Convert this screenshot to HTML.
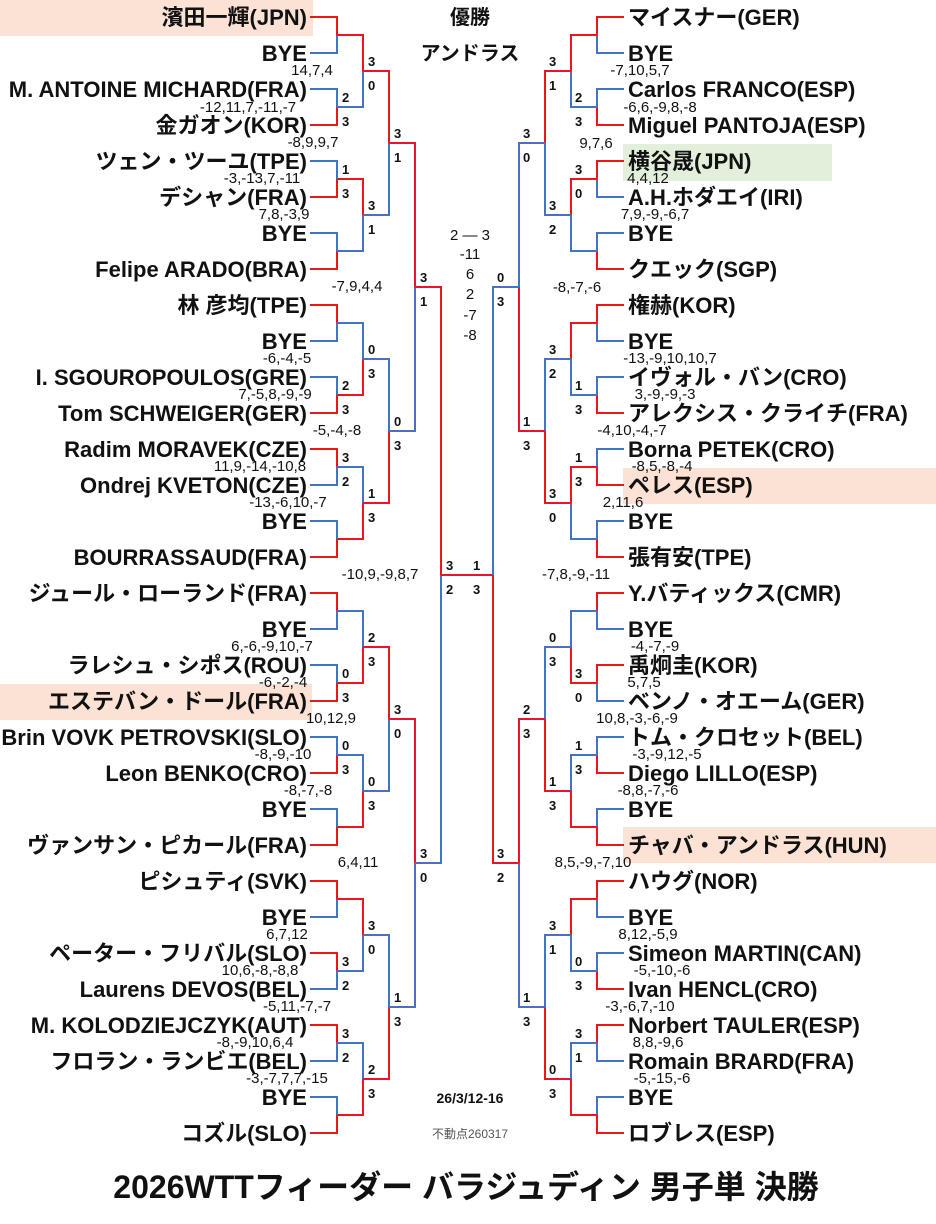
<!DOCTYPE html>
<html><head><meta charset="utf-8"><style>
html,body{margin:0;padding:0;background:#fff}
svg{display:block}
.n{font:bold 22px "Liberation Sans","Noto Sans CJK JP",sans-serif;fill:#111}
.s{font:15px "Liberation Sans","Noto Sans CJK JP",sans-serif;fill:#111}
.c{font:bold 13px "Liberation Sans",sans-serif;fill:#111}
.r{stroke:#e8161e;stroke-width:2;fill:none}
.b{stroke:#4472c4;stroke-width:2;fill:none}
</style></head><body>
<svg width="936" height="1224" viewBox="0 0 936 1224" xmlns="http://www.w3.org/2000/svg">
<rect x="0" y="0" width="313" height="36" fill="#fbe2d5"/>
<rect x="0" y="684" width="312" height="36" fill="#fbe2d5"/>
<rect x="623" y="144" width="209" height="37" fill="#e2efda"/>
<rect x="623" y="468" width="313" height="36" fill="#fbe2d5"/>
<rect x="623" y="827" width="313" height="36" fill="#fbe2d5"/>

<g>
<path class="r" d="M310 17H337V35"/><path class="b" d="M310 53H337V35"/>
<path class="b" d="M310 89H337V107"/><path class="r" d="M310 125H337V107"/>
<path class="b" d="M310 161H337V179"/><path class="r" d="M310 197H337V179"/>
<path class="b" d="M310 233H337V251"/><path class="r" d="M310 269H337V251"/>
<path class="r" d="M310 305H337V323"/><path class="b" d="M310 341H337V323"/>
<path class="b" d="M310 377H337V395"/><path class="r" d="M310 413H337V395"/>
<path class="r" d="M310 449H337V467"/><path class="b" d="M310 485H337V467"/>
<path class="b" d="M310 521H337V539"/><path class="r" d="M310 557H337V539"/>
<path class="r" d="M310 593H337V611"/><path class="b" d="M310 629H337V611"/>
<path class="b" d="M310 665H337V683"/><path class="r" d="M310 701H337V683"/>
<path class="b" d="M310 737H337V755"/><path class="r" d="M310 773H337V755"/>
<path class="b" d="M310 809H337V827"/><path class="r" d="M310 845H337V827"/>
<path class="r" d="M310 881H337V899"/><path class="b" d="M310 917H337V899"/>
<path class="r" d="M310 953H337V971"/><path class="b" d="M310 989H337V971"/>
<path class="r" d="M310 1025H337V1043"/><path class="b" d="M310 1061H337V1043"/>
<path class="b" d="M310 1097H337V1115"/><path class="r" d="M310 1133H337V1115"/>
</g>
<g>
<path class="r" d="M337 35H363V71"/><path class="b" d="M337 107H363V71"/>
<path class="r" d="M337 179H363V215"/><path class="b" d="M337 251H363V215"/>
<path class="b" d="M337 323H363V359"/><path class="r" d="M337 395H363V359"/>
<path class="b" d="M337 467H363V503"/><path class="r" d="M337 539H363V503"/>
<path class="b" d="M337 611H363V647"/><path class="r" d="M337 683H363V647"/>
<path class="b" d="M337 755H363V791"/><path class="r" d="M337 827H363V791"/>
<path class="r" d="M337 899H363V935"/><path class="b" d="M337 971H363V935"/>
<path class="b" d="M337 1043H363V1079"/><path class="r" d="M337 1115H363V1079"/>
</g>
<g>
<path class="r" d="M363 71H389V143"/><path class="b" d="M363 215H389V143"/>
<path class="b" d="M363 359H389V431"/><path class="r" d="M363 503H389V431"/>
<path class="r" d="M363 647H389V719"/><path class="b" d="M363 791H389V719"/>
<path class="b" d="M363 935H389V1007"/><path class="r" d="M363 1079H389V1007"/>
<path class="r" d="M389 143H415V287"/><path class="b" d="M389 431H415V287"/>
<path class="r" d="M389 719H415V863"/><path class="b" d="M389 1007H415V863"/>
<path class="r" d="M415 287H441V575"/><path class="b" d="M415 863H441V575"/>
<path class="r" d="M441 575H493"/>
</g>
<g>
<path class="r" d="M624 17H597V35"/><path class="b" d="M624 53H597V35"/>
<path class="b" d="M624 89H597V107"/><path class="r" d="M624 125H597V107"/>
<path class="r" d="M624 161H597V179"/><path class="b" d="M624 197H597V179"/>
<path class="b" d="M624 233H597V251"/><path class="r" d="M624 269H597V251"/>
<path class="r" d="M624 305H597V323"/><path class="b" d="M624 341H597V323"/>
<path class="b" d="M624 377H597V395"/><path class="r" d="M624 413H597V395"/>
<path class="b" d="M624 449H597V467"/><path class="r" d="M624 485H597V467"/>
<path class="b" d="M624 521H597V539"/><path class="r" d="M624 557H597V539"/>
<path class="r" d="M624 593H597V611"/><path class="b" d="M624 629H597V611"/>
<path class="r" d="M624 665H597V683"/><path class="b" d="M624 701H597V683"/>
<path class="b" d="M624 737H597V755"/><path class="r" d="M624 773H597V755"/>
<path class="b" d="M624 809H597V827"/><path class="r" d="M624 845H597V827"/>
<path class="r" d="M624 881H597V899"/><path class="b" d="M624 917H597V899"/>
<path class="b" d="M624 953H597V971"/><path class="r" d="M624 989H597V971"/>
<path class="r" d="M624 1025H597V1043"/><path class="b" d="M624 1061H597V1043"/>
<path class="b" d="M624 1097H597V1115"/><path class="r" d="M624 1133H597V1115"/>
</g>
<g>
<path class="r" d="M597 35H571V71"/><path class="b" d="M597 107H571V71"/>
<path class="r" d="M597 179H571V215"/><path class="b" d="M597 251H571V215"/>
<path class="r" d="M597 323H571V359"/><path class="b" d="M597 395H571V359"/>
<path class="r" d="M597 467H571V503"/><path class="b" d="M597 539H571V503"/>
<path class="b" d="M597 611H571V647"/><path class="r" d="M597 683H571V647"/>
<path class="b" d="M597 755H571V791"/><path class="r" d="M597 827H571V791"/>
<path class="r" d="M597 899H571V935"/><path class="b" d="M597 971H571V935"/>
<path class="b" d="M597 1043H571V1079"/><path class="r" d="M597 1115H571V1079"/>
</g>
<g>
<path class="r" d="M571 71H545V143"/><path class="b" d="M571 215H545V143"/>
<path class="b" d="M571 359H545V431"/><path class="r" d="M571 503H545V431"/>
<path class="b" d="M571 647H545V719"/><path class="r" d="M571 791H545V719"/>
<path class="b" d="M571 935H545V1007"/><path class="r" d="M571 1079H545V1007"/>
<path class="b" d="M545 143H519V287"/><path class="r" d="M545 431H519V287"/>
<path class="r" d="M545 719H519V863"/><path class="b" d="M545 1007H519V863"/>
<path class="b" d="M519 287H493V575"/><path class="r" d="M519 863H493V575"/>
</g>

<g class="n" text-anchor="end">
<text x="307" y="25">濱田一輝(JPN)</text>
<text x="307" y="61">BYE</text>
<text x="307" y="97">M. ANTOINE MICHARD(FRA)</text>
<text x="307" y="133">金ガオン(KOR)</text>
<text x="307" y="169">ツェン・ツーユ(TPE)</text>
<text x="307" y="205">デシャン(FRA)</text>
<text x="307" y="241">BYE</text>
<text x="307" y="277">Felipe ARADO(BRA)</text>
<text x="307" y="313">林 彦均(TPE)</text>
<text x="307" y="349">BYE</text>
<text x="307" y="385">I. SGOUROPOULOS(GRE)</text>
<text x="307" y="421">Tom SCHWEIGER(GER)</text>
<text x="307" y="457">Radim MORAVEK(CZE)</text>
<text x="307" y="493">Ondrej KVETON(CZE)</text>
<text x="307" y="529">BYE</text>
<text x="307" y="565">BOURRASSAUD(FRA)</text>
<text x="307" y="601">ジュール・ローランド(FRA)</text>
<text x="307" y="637">BYE</text>
<text x="307" y="673">ラレシュ・シポス(ROU)</text>
<text x="307" y="709">エステバン・ドール(FRA)</text>
<text x="307" y="745">Brin VOVK PETROVSKI(SLO)</text>
<text x="307" y="781">Leon BENKO(CRO)</text>
<text x="307" y="817">BYE</text>
<text x="307" y="853">ヴァンサン・ピカール(FRA)</text>
<text x="307" y="889">ピシュティ(SVK)</text>
<text x="307" y="925">BYE</text>
<text x="307" y="961">ペーター・フリバル(SLO)</text>
<text x="307" y="997">Laurens DEVOS(BEL)</text>
<text x="307" y="1033">M. KOLODZIEJCZYK(AUT)</text>
<text x="307" y="1069">フロラン・ランビエ(BEL)</text>
<text x="307" y="1105">BYE</text>
<text x="307" y="1141">コズル(SLO)</text>
</g>
<g class="n">
<text x="628" y="25">マイスナー(GER)</text>
<text x="628" y="61">BYE</text>
<text x="628" y="97">Carlos FRANCO(ESP)</text>
<text x="628" y="133">Miguel PANTOJA(ESP)</text>
<text x="628" y="169">横谷晟(JPN)</text>
<text x="628" y="205">A.H.ホダエイ(IRI)</text>
<text x="628" y="241">BYE</text>
<text x="628" y="277">クエック(SGP)</text>
<text x="628" y="313">権赫(KOR)</text>
<text x="628" y="349">BYE</text>
<text x="628" y="385">イヴォル・バン(CRO)</text>
<text x="628" y="421">アレクシス・クライチ(FRA)</text>
<text x="628" y="457">Borna PETEK(CRO)</text>
<text x="628" y="493">ペレス(ESP)</text>
<text x="628" y="529">BYE</text>
<text x="628" y="565">張有安(TPE)</text>
<text x="628" y="601">Y.バティックス(CMR)</text>
<text x="628" y="637">BYE</text>
<text x="628" y="673">禹炯圭(KOR)</text>
<text x="628" y="709">ベンノ・オエーム(GER)</text>
<text x="628" y="745">トム・クロセット(BEL)</text>
<text x="628" y="781">Diego LILLO(ESP)</text>
<text x="628" y="817">BYE</text>
<text x="628" y="853">チャバ・アンドラス(HUN)</text>
<text x="628" y="889">ハウグ(NOR)</text>
<text x="628" y="925">BYE</text>
<text x="628" y="961">Simeon MARTIN(CAN)</text>
<text x="628" y="997">Ivan HENCL(CRO)</text>
<text x="628" y="1033">Norbert TAULER(ESP)</text>
<text x="628" y="1069">Romain BRARD(FRA)</text>
<text x="628" y="1105">BYE</text>
<text x="628" y="1141">ロブレス(ESP)</text>
</g>

<g class="s" text-anchor="middle">
<text x="312" y="75">14,7,4</text>
<text x="248" y="112">-12,11,7,-11,-7</text>
<text x="313" y="147">-8,9,9,7</text>
<text x="262" y="183">-3,-13,7,-11</text>
<text x="284" y="219">7,8,-3,9</text>
<text x="357" y="291">-7,9,4,4</text>
<text x="287" y="363">-6,-4,-5</text>
<text x="275" y="399">7,-5,8,-9,-9</text>
<text x="337" y="435">-5,-4,-8</text>
<text x="260" y="471">11,9,-14,-10,8</text>
<text x="288" y="507">-13,-6,10,-7</text>
<text x="380" y="579">-10,9,-9,8,7</text>
<text x="272" y="651">6,-6,-9,10,-7</text>
<text x="283" y="687">-6,-2,-4</text>
<text x="331" y="723">10,12,9</text>
<text x="283" y="759">-8,-9,-10</text>
<text x="308" y="795">-8,-7,-8</text>
<text x="358" y="867">6,4,11</text>
<text x="287" y="939">6,7,12</text>
<text x="260" y="975">10,6,-8,-8,8</text>
<text x="297" y="1011">-5,11,-7,-7</text>
<text x="255" y="1047">-8,-9,10,6,4</text>
<text x="287" y="1083">-3,-7,7,7,-15</text>
</g>
<g class="s" text-anchor="middle">
<text x="640" y="75">-7,10,5,7</text>
<text x="660" y="112">-6,6,-9,8,-8</text>
<text x="596" y="148">9,7,6</text>
<text x="648" y="183">4,4,12</text>
<text x="655" y="219">7,9,-9,-6,7</text>
<text x="577" y="292">-8,-7,-6</text>
<text x="670" y="363">-13,-9,10,10,7</text>
<text x="665" y="399">3,-9,-9,-3</text>
<text x="632" y="435">-4,10,-4,-7</text>
<text x="662" y="471">-8,5,-8,-4</text>
<text x="623" y="507">2,11,6</text>
<text x="576" y="579">-7,8,-9,-11</text>
<text x="655" y="651">-4,-7,-9</text>
<text x="644" y="687">5,7,5</text>
<text x="637" y="723">10,8,-3,-6,-9</text>
<text x="667" y="759">-3,-9,12,-5</text>
<text x="648" y="795">-8,8,-7,-6</text>
<text x="593" y="867">8,5,-9,-7,10</text>
<text x="648" y="939">8,12,-5,9</text>
<text x="662" y="975">-5,-10,-6</text>
<text x="640" y="1011">-3,-6,7,-10</text>
<text x="658" y="1047">8,8,-9,6</text>
<text x="662" y="1083">-5,-15,-6</text>
</g>

<g class="c">
<text x="342" y="102">2</text><text x="342" y="126">3</text>
<text x="342" y="174">1</text><text x="342" y="198">3</text>
<text x="342" y="390">2</text><text x="342" y="414">3</text>
<text x="342" y="462">3</text><text x="342" y="486">2</text>
<text x="342" y="678">0</text><text x="342" y="702">3</text>
<text x="342" y="750">0</text><text x="342" y="774">3</text>
<text x="342" y="966">3</text><text x="342" y="990">2</text>
<text x="342" y="1038">3</text><text x="342" y="1062">2</text>

<text x="368" y="66">3</text><text x="368" y="90">0</text>
<text x="368" y="210">3</text><text x="368" y="234">1</text>
<text x="368" y="354">0</text><text x="368" y="378">3</text>
<text x="368" y="498">1</text><text x="368" y="522">3</text>
<text x="368" y="642">2</text><text x="368" y="666">3</text>
<text x="368" y="786">0</text><text x="368" y="810">3</text>
<text x="368" y="930">3</text><text x="368" y="954">0</text>
<text x="368" y="1074">2</text><text x="368" y="1098">3</text>

<text x="394" y="138">3</text><text x="394" y="162">1</text>
<text x="394" y="426">0</text><text x="394" y="450">3</text>
<text x="394" y="714">3</text><text x="394" y="738">0</text>
<text x="394" y="1002">1</text><text x="394" y="1026">3</text>

<text x="420" y="282">3</text><text x="420" y="306">1</text>
<text x="420" y="858">3</text><text x="420" y="882">0</text>

<text x="446" y="570">3</text><text x="446" y="594">2</text>
<text x="473" y="570">1</text><text x="473" y="594">3</text>
</g>
<g class="c">
<text x="575" y="102">2</text><text x="575" y="126">3</text>
<text x="575" y="174">3</text><text x="575" y="198">0</text>
<text x="575" y="390">1</text><text x="575" y="414">3</text>
<text x="575" y="462">1</text><text x="575" y="486">3</text>
<text x="575" y="678">3</text><text x="575" y="702">0</text>
<text x="575" y="750">1</text><text x="575" y="774">3</text>
<text x="575" y="966">0</text><text x="575" y="990">3</text>
<text x="575" y="1038">3</text><text x="575" y="1062">1</text>

<text x="549" y="66">3</text><text x="549" y="90">1</text>
<text x="549" y="210">3</text><text x="549" y="234">2</text>
<text x="549" y="354">3</text><text x="549" y="378">2</text>
<text x="549" y="498">3</text><text x="549" y="522">0</text>
<text x="549" y="642">0</text><text x="549" y="666">3</text>
<text x="549" y="786">1</text><text x="549" y="810">3</text>
<text x="549" y="930">3</text><text x="549" y="954">1</text>
<text x="549" y="1074">0</text><text x="549" y="1098">3</text>

<text x="523" y="138">3</text><text x="523" y="162">0</text>
<text x="523" y="426">1</text><text x="523" y="450">3</text>
<text x="523" y="714">2</text><text x="523" y="738">3</text>
<text x="523" y="1002">1</text><text x="523" y="1026">3</text>

<text x="497" y="282">0</text><text x="497" y="306">3</text>
<text x="497" y="858">3</text><text x="497" y="882">2</text>
</g>

<g text-anchor="middle">
<text x="470" y="24" class="n" style="font-size:20px">優勝</text>
<text x="470" y="60" class="n" style="font-size:20px">アンドラス</text>
<g class="s">
<text x="470" y="240">2 ― 3</text>
<text x="470" y="259">-11</text>
<text x="470" y="279">6</text>
<text x="470" y="299">2</text>
<text x="470" y="320">-7</text>
<text x="470" y="340">-8</text>
</g>
<text x="470" y="1103" style="font:bold 14px 'Liberation Sans',sans-serif;fill:#111">26/3/12-16</text>
<text x="470" y="1138" style="font:12px 'Liberation Sans','Noto Sans CJK JP',sans-serif;fill:#555">不動点260317</text>
<text x="466" y="1198" style="font:bold 32px 'Liberation Sans','Noto Sans CJK JP',sans-serif;fill:#111">2026WTTフィーダー バラジュディン 男子単 決勝</text>
</g>
</svg>
</body></html>
